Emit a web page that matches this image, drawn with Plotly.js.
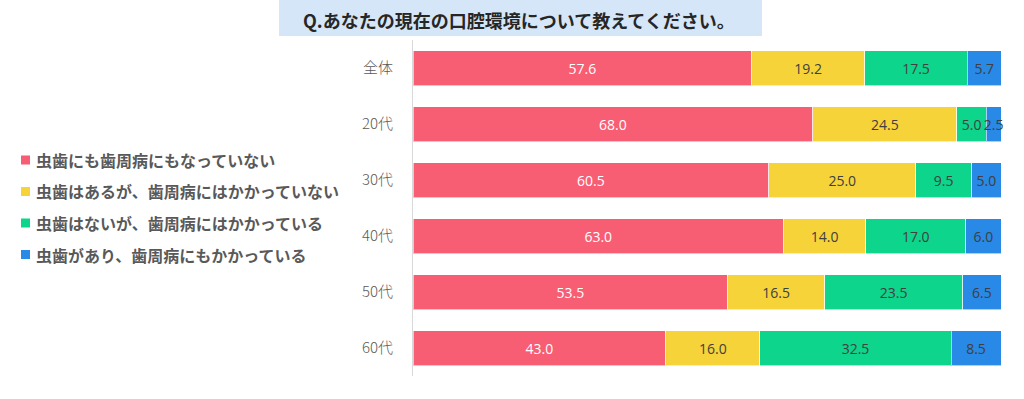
<!DOCTYPE html>
<html>
<head>
<meta charset="utf-8">
<script src="https://cdn.plot.ly/plotly-3.0.1.min.js"></script>
<style>html,body{margin:0;padding:0;background:#fff;}#chart{width:1024px;height:399px;}</style>
</head>
<body>
<div id="chart"></div>
<script>
const categories = ["全体", "20代", "30代", "40代", "50代", "60代"];
const seriesNames = [
  "虫歯にも歯周病にもなっていない",
  "虫歯はあるが、歯周病にはかかっていない",
  "虫歯はないが、歯周病にはかかっている",
  "虫歯があり、歯周病にもかかっている"
];
const noneValues   = [57.6, 68.0, 60.5, 63.0, 53.5, 43.0];
const cavityValues = [19.2, 24.5, 25.0, 14.0, 16.5, 16.0];
const gumValues    = [17.5, 5.0, 9.5, 17.0, 23.5, 32.5];
const bothValues   = [5.7, 2.5, 5.0, 6.0, 6.5, 8.5];
const colors = ["#f75d73", "#f7d33a", "#0dd58b", "#2889e6"];
const textColors = ["#ffffff", "#404040", "#404040", "#404040"];
const titleText = "Q.あなたの現在の口腔環境について教えてください。";

const allValues = [noneValues, cavityValues, gumValues, bothValues];
const traces = allValues.map((vals, i) => ({
  type: "bar",
  orientation: "h",
  name: seriesNames[i],
  y: categories,
  x: vals,
  text: vals.map(v => v.toFixed(1)),
  textposition: "inside",
  insidetextanchor: "middle",
  textangle: 0,
  constraintext: "none",
  cliponaxis: false,
  textfont: {color: textColors[i], size: 14, family: "Liberation Sans Narrow, Open Sans, sans-serif"},
  marker: {color: colors[i], line: {color: "rgba(255,255,255,0.6)", width: 1}},
  hoverinfo: "skip",
  showlegend: false
}));

const plotL = 413, plotR = 1001, plotT = 40, plotB = 376;
const pw = plotR - plotL, ph = plotB - plotT;
const px = x => (x - plotL) / pw;
const py = y => (plotB - y) / ph;

// custom legend (square + label), drawn as layout items left of the plot
const legendRowY = [160, 191.5, 223, 254.5];
const legendShapes = seriesNames.map((n, i) => ({
  type: "rect", xref: "paper", yref: "paper",
  x0: px(21), x1: px(30), y0: py(legendRowY[i] + 4.5), y1: py(legendRowY[i] - 4.5),
  fillcolor: colors[i], line: {width: 0}
}));
const legendAnns = seriesNames.map((n, i) => ({
  text: "<b>" + n + "</b>",
  xref: "paper", yref: "paper",
  x: px(34), y: py(legendRowY[i]), xanchor: "left", yanchor: "middle",
  showarrow: false,
  font: {size: 16, color: "#595959", family: "Noto Sans CJK JP, sans-serif"}
}));

const layout = {
  width: 1024, height: 399,
  margin: {l: plotL, r: 1024 - plotR, t: plotT, b: 399 - plotB, pad: 0},
  paper_bgcolor: "#ffffff",
  plot_bgcolor: "#ffffff",
  barmode: "stack",
  bargap: 0.375,
  uniformtext: {mode: "show", minsize: 14},
  font: {family: "Noto Sans CJK JP, sans-serif", color: "#595959"},
  showlegend: false,
  xaxis: {range: [0, 100], visible: false, fixedrange: true},
  yaxis: {
    type: "category",
    categoryorder: "array",
    categoryarray: categories,
    autorange: "reversed",
    showline: true, linecolor: "#d9d9d9", linewidth: 1,
    ticks: "", showgrid: false, zeroline: false,
    ticklabelstandoff: 16,
    tickfont: {size: 15, color: "#595959", family: "Noto Sans CJK JP, sans-serif", weight: 300}
  },
  shapes: [{
    type: "rect", xref: "paper", yref: "paper",
    x0: px(279), x1: px(762), y0: py(36), y1: py(0),
    fillcolor: "#d5e6f8", line: {width: 0}, layer: "below"
  }].concat(legendShapes),
  annotations: [{
    text: "<b>" + titleText + "</b>",
    xref: "paper", yref: "paper",
    x: px(301), y: py(19.5), xanchor: "left", yanchor: "middle",
    showarrow: false,
    font: {size: 18, color: "#262626", family: "Noto Sans CJK JP, sans-serif"}
  }].concat(legendAnns)
};

Plotly.newPlot("chart", traces, layout, {displayModeBar: false, staticPlot: true});
</script>
</body>
</html>
